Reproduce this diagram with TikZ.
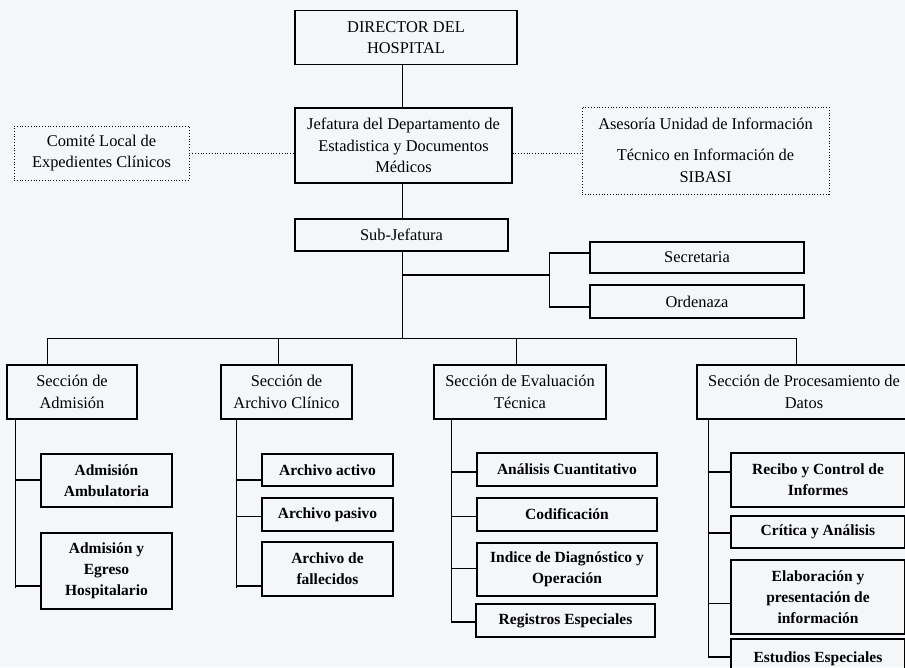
\documentclass[tikz,border=0pt]{standalone}
\usepackage{fontspec}
\setmainfont{Liberation Serif}
\definecolor{bg}{RGB}{243,247,247}
\begin{document}
\begin{tikzpicture}[x=1pt,y=-1pt,
  box/.style={draw, line width=1.2pt, inner sep=0pt, align=center,
    font=\fontsize{16.4}{21.5}\selectfont},
  dbox/.style={box, line width=0.8pt, dotted},
  subbox/.style={box, font=\fontsize{15.5}{21}\selectfont\bfseries},
  conn/.style={line width=0.9pt},
  hconn/.style={line width=1.5pt},
  dconn/.style={line width=0.8pt, dotted}]
\fill[bg] (0,0) rectangle (905,667);
\useasboundingbox (0,0) rectangle (905,667);
% top level
\node[box, minimum width=222pt, minimum height=54pt] (dir) at (406,37.5) {DIRECTOR DEL\\HOSPITAL};
\node[box, minimum width=217pt, minimum height=75pt] (jef) at (403.5,145.5) {Jefatura del Departamento de\\Estadistica y Documentos\\Médicos};
\node[dbox, minimum width=175pt, minimum height=54pt] (com) at (101.5,153) {Comité Local de\\Expedientes Clínicos};
\node[dbox, minimum width=247pt, minimum height=87pt] (ase) at (705.5,150.5) {Asesoría Unidad de Información\\[9.5pt]Técnico en Información de\\SIBASI};
\node[box, minimum width=213pt, minimum height=32pt] (sub) at (401.5,235) {Sub-Jefatura};
\node[box, minimum width=214pt, minimum height=31pt] (sec) at (697,257.5) {Secretaria};
\node[box, minimum width=214pt, minimum height=33pt] (ord) at (697,301.5) {Ordenaza};
% sections
\node[box, minimum width=130pt, minimum height=54pt] (s1) at (72,392) {Sección de\\Admisión};
\node[box, minimum width=131pt, minimum height=54pt] (s2) at (286.5,392) {Sección de\\Archivo Clínico};
\node[box, minimum width=172pt, minimum height=54pt] (s3) at (520,392) {Sección de Evaluación\\Técnica};
\node[box, minimum width=214pt, minimum height=54pt] (s4) at (804,392) {Sección de Procesamiento de\\Datos};
% sub boxes
\node[subbox, minimum width=131pt, minimum height=53pt] (a1) at (106.5,480.5) {Admisión\\Ambulatoria};
\node[subbox, minimum width=131pt, minimum height=76pt] (a2) at (106.5,571) {Admisión y\\Egreso\\Hospitalario};
\node[subbox, minimum width=131pt, minimum height=32pt] (b1) at (327.5,470) {Archivo activo};
\node[subbox, minimum width=131pt, minimum height=33pt] (b2) at (327.5,514.5) {Archivo pasivo};
\node[subbox, minimum width=131pt, minimum height=54pt] (b3) at (327.5,569) {Archivo de\\fallecidos};
\node[subbox, minimum width=180pt, minimum height=33pt] (c1) at (567,469.5) {Análisis Cuantitativo};
\node[subbox, minimum width=180pt, minimum height=33pt] (c2) at (567,514.5) {Codificación};
\node[subbox, minimum width=180pt, minimum height=53pt] (c3) at (567,569.5) {Indice de Diagnóstico y\\Operación};
\node[subbox, minimum width=179pt, minimum height=33pt] (c4) at (565.5,620.5) {Registros Especiales};
\node[subbox, minimum width=174pt, minimum height=54pt] (d1) at (818,480) {Recibo y Control de\\Informes};
\node[subbox, minimum width=174pt, minimum height=32pt] (d2) at (818,532) {Crítica y Análisis};
\node[subbox, minimum width=174pt, minimum height=74pt] (d3) at (818,597) {Elaboración y\\presentación de\\información};
\node[subbox, minimum width=174pt, minimum height=40pt] (d4) at (818,659) {Estudios Especiales};
% coordinates
\coordinate (spine) at (402,338);
\coordinate (br) at (549,275);
\coordinate (brT) at (549,253);
\coordinate (brB) at (549,307);
\coordinate (barL) at (47,338);
\coordinate (barR) at (796,338);
\coordinate (dr2) at (278,338);
\coordinate (dr3) at (516,338);
\coordinate (v1) at (15,588);
\coordinate (v2) at (236,588);
\coordinate (v3) at (451,622);
\coordinate (v4) at (708,657);
\coordinate (pa1) at (15,480);
\coordinate (pa2) at (15,586);
\coordinate (pb1) at (236,480);
\coordinate (pb2) at (236,516);
\coordinate (pb3) at (236,586);
\coordinate (pc1) at (451,472);
\coordinate (pc2) at (451,516);
\coordinate (pc3) at (451,568);
\coordinate (pc4) at (451,622);
\coordinate (pd1) at (708,472);
\coordinate (pd2) at (708,533);
\coordinate (pd3) at (708,603);
\coordinate (pd4) at (708,657);
% connectors top
\draw[conn] (dir.south -| spine) -- (jef.north -| spine);
\draw[conn] (jef.south -| spine) -- (sub.north -| spine);
\draw[conn] (sub.south -| spine) -- (spine);
\draw[dconn] (com.east) -- (com.east -| jef.west);
\draw[dconn] (jef.east |- com.east) -- (ase.west |- com.east);
\draw[hconn] (spine |- br) -- (br);
\draw[conn] (brT) -- (brB);
\draw[hconn] (brT) -- (brT -| sec.west);
\draw[hconn] (brB) -- (brB -| ord.west);
% bar and drops
\draw[conn] (barL) -- (barR);
\draw[conn] (barL) -- (barL |- s1.north);
\draw[conn] (dr2) -- (dr2 |- s2.north);
\draw[conn] (dr3) -- (dr3 |- s3.north);
\draw[conn] (barR) -- (barR |- s4.north);
% section verticals
\draw[conn] (v1 |- s1.south) -- (v1);
\draw[conn] (v2 |- s2.south) -- (v2);
\draw[conn] (v3 |- s3.south) -- (v3);
\draw[conn] (v4 |- s4.south) -- (v4);
% child connectors
\draw[hconn] (pa1) -- (pa1 -| a1.west);
\draw[hconn] (pa2) -- (pa2 -| a2.west);
\draw[hconn] (pb1) -- (pb1 -| b1.west);
\draw[conn] (pb2) -- (pb2 -| b2.west);
\draw[hconn] (pb3) -- (pb3 -| b3.west);
\draw[hconn] (pc1) -- (pc1 -| c1.west);
\draw[conn] (pc2) -- (pc2 -| c2.west);
\draw[conn] (pc3) -- (pc3 -| c3.west);
\draw[hconn] (pc4) -- (pc4 -| c4.west);
\draw[hconn] (pd1) -- (pd1 -| d1.west);
\draw[hconn] (pd2) -- (pd2 -| d2.west);
\draw[conn] (pd3) -- (pd3 -| d3.west);
\draw[hconn] (pd4) -- (pd4 -| d4.west);
\end{tikzpicture}
\end{document}
